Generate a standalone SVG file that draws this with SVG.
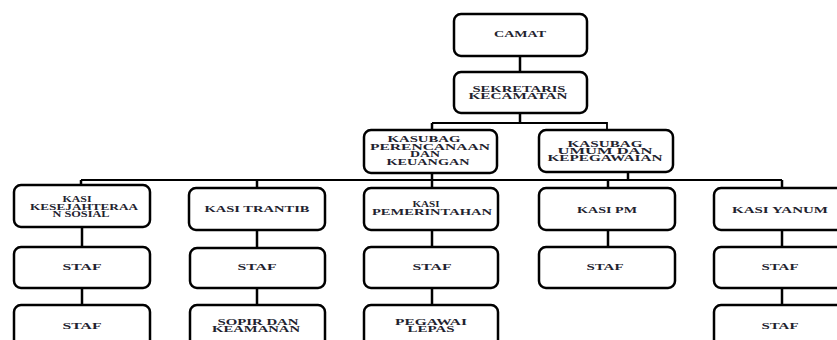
<svg xmlns="http://www.w3.org/2000/svg" width="837" height="340" viewBox="0 0 837 340">
<style>
.b{fill:#fff;stroke:#000;stroke-width:2.5}
.t{font-family:"Liberation Serif","Times New Roman",serif;font-size:8.4px;font-weight:bold;fill:#22222e;text-anchor:middle}
.c{fill:none;stroke:#000;stroke-width:2.5}
.h{fill:none;stroke:#000;stroke-width:1.8}
</style>
<rect width="837" height="340" fill="#fff"/>
<g id="connectors">
<path class="c" d="M520 56V72M520 113V123M432 173V188M608 180V188M628 172V180M81 180V185M257 180V188M782 180V188"/>
<path class="h" d="M432 123H607V130M81 180H782"/>
<path class="c" d="M432 123V130"/>
<path class="c" d="M82 227V247M82 288V305M257 230V248M257 288V305M432 230V247M432 288V305M608 230V247M782 230V247M782 288V305"/>
</g>
<g id="camat"><rect class="b" x="454" y="14" width="133" height="42" rx="7"/><text class="t" x="520" y="37" textLength="52" lengthAdjust="spacingAndGlyphs">CAMAT</text></g>
<g id="sekretaris"><rect class="b" x="454" y="72" width="133" height="41" rx="7"/><text class="t" x="519" y="91.7" textLength="93" lengthAdjust="spacingAndGlyphs">SEKRETARIS</text><text class="t" x="518" y="99" textLength="99" lengthAdjust="spacingAndGlyphs">KECAMATAN</text></g>
<g id="kasubag-perencanaan"><rect class="b" x="364" y="130" width="133" height="43" rx="7"/><text class="t" x="424" y="142" textLength="73" lengthAdjust="spacingAndGlyphs">KASUBAG</text><text class="t" x="430" y="149.5" textLength="120" lengthAdjust="spacingAndGlyphs">PERENCANAAN</text><text class="t" x="425" y="157" textLength="30" lengthAdjust="spacingAndGlyphs">DAN</text><text class="t" x="428" y="164.5" textLength="83" lengthAdjust="spacingAndGlyphs">KEUANGAN</text></g>
<g id="kasubag-umum"><rect class="b" x="539" y="130" width="134" height="42" rx="7"/><text class="t" x="605" y="147" textLength="75" lengthAdjust="spacingAndGlyphs">KASUBAG</text><text class="t" x="605" y="154" textLength="95" lengthAdjust="spacingAndGlyphs">UMUM DAN</text><text class="t" x="605" y="161" textLength="115" lengthAdjust="spacingAndGlyphs">KEPEGAWAIAN</text></g>
<g id="kasi-kesejahteraan"><rect class="b" x="14" y="185" width="136" height="42" rx="7"/><text class="t" x="77" y="202" textLength="29" lengthAdjust="spacingAndGlyphs">KASI</text><text class="t" x="84" y="209.5" textLength="108" lengthAdjust="spacingAndGlyphs">KESEJAHTERAA</text><text class="t" x="81" y="217" textLength="57" lengthAdjust="spacingAndGlyphs">N SOSIAL</text></g>
<g id="kasi-trantib"><rect class="b" x="189" y="188" width="136" height="42" rx="7"/><text class="t" x="257" y="212" textLength="105" lengthAdjust="spacingAndGlyphs">KASI TRANTIB</text></g>
<g id="kasi-pemerintahan"><rect class="b" x="364" y="188" width="134" height="42" rx="7"/><text class="t" x="426" y="207" textLength="27" lengthAdjust="spacingAndGlyphs">KASI</text><text class="t" x="432" y="215" textLength="120" lengthAdjust="spacingAndGlyphs">PEMERINTAHAN</text></g>
<g id="kasi-pm"><rect class="b" x="539" y="188" width="136" height="42" rx="7"/><text class="t" x="607" y="213" textLength="60" lengthAdjust="spacingAndGlyphs">KASI PM</text></g>
<g id="kasi-yanum"><rect class="b" x="714" y="188" width="136" height="42" rx="7"/><text class="t" x="780" y="213" textLength="96" lengthAdjust="spacingAndGlyphs">KASI YANUM</text></g>
<g id="staf-1"><rect class="b" x="14" y="247" width="136" height="41" rx="7"/><text class="t" x="82" y="270" textLength="39" lengthAdjust="spacingAndGlyphs">STAF</text></g>
<g id="staf-2"><rect class="b" x="190" y="248" width="135" height="40" rx="7"/><text class="t" x="257" y="270" textLength="39" lengthAdjust="spacingAndGlyphs">STAF</text></g>
<g id="staf-3"><rect class="b" x="364" y="247" width="134" height="41" rx="7"/><text class="t" x="432" y="270" textLength="39" lengthAdjust="spacingAndGlyphs">STAF</text></g>
<g id="staf-4"><rect class="b" x="539" y="247" width="136" height="41" rx="7"/><text class="t" x="605" y="270" textLength="37" lengthAdjust="spacingAndGlyphs">STAF</text></g>
<g id="staf-5"><rect class="b" x="714" y="247" width="136" height="41" rx="7"/><text class="t" x="780" y="270" textLength="37" lengthAdjust="spacingAndGlyphs">STAF</text></g>
<g id="staf-6"><rect class="b" x="14" y="305" width="136" height="45" rx="7"/><text class="t" x="82" y="328.5" textLength="39" lengthAdjust="spacingAndGlyphs">STAF</text></g>
<g id="sopir"><rect class="b" x="190" y="305" width="135" height="45" rx="7"/><text class="t" x="258" y="325" textLength="81" lengthAdjust="spacingAndGlyphs">SOPIR DAN</text><text class="t" x="256" y="332" textLength="88" lengthAdjust="spacingAndGlyphs">KEAMANAN</text></g>
<g id="pegawai-lepas"><rect class="b" x="364" y="305" width="134" height="45" rx="7"/><text class="t" x="431" y="325" textLength="72" lengthAdjust="spacingAndGlyphs">PEGAWAI</text><text class="t" x="431" y="332" textLength="47" lengthAdjust="spacingAndGlyphs">LEPAS</text></g>
<g id="staf-7"><rect class="b" x="714" y="305" width="136" height="45" rx="7"/><text class="t" x="780" y="328.5" textLength="37" lengthAdjust="spacingAndGlyphs">STAF</text></g>
</svg>
